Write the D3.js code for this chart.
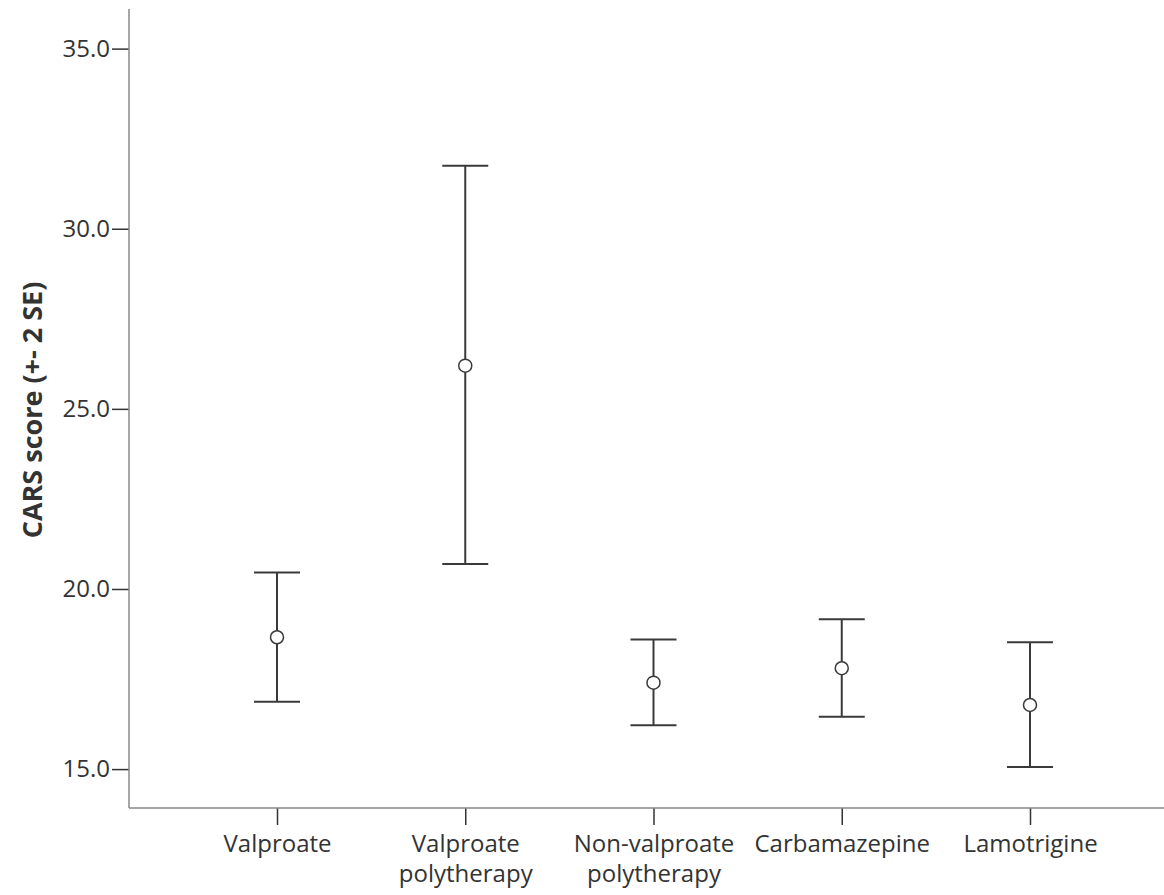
<!DOCTYPE html>
<html>
<head>
<meta charset="utf-8">
<script src="https://cdn.jsdelivr.net/npm/d3@7"></script>
<style>
  body { margin: 0; background: #fff; }
  text { font-family: "Open Sans", sans-serif; fill: #333; }
</style>
</head>
<body>
<script>
const categories = ['Valproate', 'Valproate polytherapy', 'Non-valproate polytherapy', 'Carbamazepine', 'Lamotrigine'];
const means = [18.66, 26.20, 17.40, 17.80, 16.78];
const upper = [20.46, 31.75, 18.60, 19.16, 18.52];
const lower = [16.87, 20.69, 16.22, 16.45, 15.06];
const yTicks = [15, 20, 25, 30, 35];

const width = 1164;
const height = 895;

const axisX = 129;
const axisBottom = 808;
const axisTop = 9;

const x = d3.scalePoint()
      .domain(categories)
      .range([277, 1030]);

const y = d3.scaleLinear()
      .domain([13.92, 36.1])
      .range([axisBottom, axisTop]);

const svg = d3.select('body').append('svg')
      .attr('width', width)
      .attr('height', height);

// y axis
const yAxis = svg.append('g')
      .attr('transform', 'translate(' + axisX + ',0)')
      .call(d3.axisLeft(y).tickValues(yTicks).tickFormat(d3.format('.1f')).tickSize(17).tickPadding(2));
yAxis.select('.domain').remove();
yAxis.selectAll('.tick line').attr('stroke', '#333').attr('stroke-width', 1.5);
yAxis.selectAll('.tick text').style('font-size', '24px').attr('fill', '#333');

// x axis
const xAxis = svg.append('g')
      .attr('transform', 'translate(0,' + axisBottom + ')')
      .call(d3.axisBottom(x).tickSize(17).tickFormat(''));
xAxis.select('.domain').remove();
xAxis.selectAll('.tick line').attr('stroke', '#333').attr('stroke-width', 1.5);

xAxis.selectAll('.tick').append('g').each(function(d) {
  const lines = d.split(' ');
  d3.select(this).selectAll('text')
    .data(lines)
    .enter().append('text')
    .attr('text-anchor', 'middle')
    .attr('y', (l, i) => 44 + i * 30)
    .style('font-size', '24px')
    .text(l => l);
});

// axis lines
svg.append('line')
  .attr('x1', axisX).attr('x2', axisX)
  .attr('y1', axisTop).attr('y2', axisBottom)
  .attr('stroke', '#888').attr('stroke-width', 1.5);
svg.append('line')
  .attr('x1', axisX).attr('x2', width)
  .attr('y1', axisBottom).attr('y2', axisBottom)
  .attr('stroke', '#888').attr('stroke-width', 1.5);

// y label
svg.append('text')
  .attr('transform', 'translate(42,' + 410 + ') rotate(-90)')
  .attr('text-anchor', 'middle')
  .style('font-size', '27px')
  .style('font-weight', 'bold')
  .text('CARS score (+- 2 SE)');

// error bars
const capHalf = 23;
const g = svg.selectAll('.bar')
      .data(categories)
      .enter().append('g')
      .attr('class', 'bar');

g.append('line')
  .attr('x1', d => x(d)).attr('x2', d => x(d))
  .attr('y1', (d, i) => y(upper[i])).attr('y2', (d, i) => y(lower[i]))
  .attr('stroke', '#3a3a3a').attr('stroke-width', 2);

g.append('line')
  .attr('x1', d => x(d) - capHalf).attr('x2', d => x(d) + capHalf)
  .attr('y1', (d, i) => y(upper[i])).attr('y2', (d, i) => y(upper[i]))
  .attr('stroke', '#3a3a3a').attr('stroke-width', 2);

g.append('line')
  .attr('x1', d => x(d) - capHalf).attr('x2', d => x(d) + capHalf)
  .attr('y1', (d, i) => y(lower[i])).attr('y2', (d, i) => y(lower[i]))
  .attr('stroke', '#3a3a3a').attr('stroke-width', 2);

g.append('circle')
  .attr('cx', d => x(d))
  .attr('cy', (d, i) => y(means[i]))
  .attr('r', 6.5)
  .attr('fill', '#fff')
  .attr('stroke', '#3a3a3a')
  .attr('stroke-width', 1.5);
</script>
</body>
</html>
